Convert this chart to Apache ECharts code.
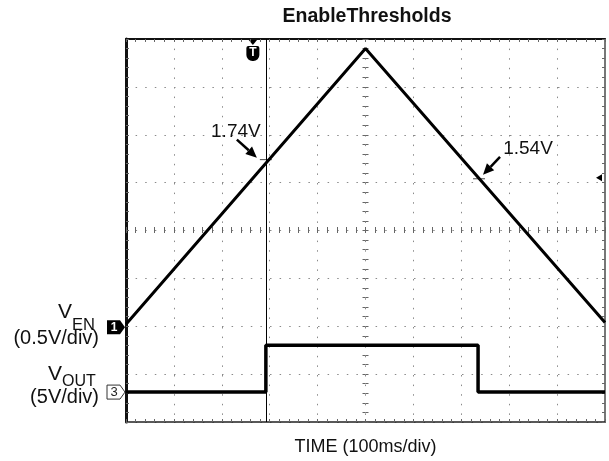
<!DOCTYPE html>
<html><head><meta charset="utf-8">
<script src="https://cdn.jsdelivr.net/npm/echarts@6/dist/echarts.min.js"></script>
<style>html,body{margin:0;padding:0;background:#fff}#c{width:609px;height:461px}</style>
</head><body><div id="c"></div>
<script>
// ---- data (read from the scope capture) ----
const timeRangeMs = [0, 1000];
const timeDivMs = 100;                 // 100 ms/div
const venTimeMs = [0, 500, 1000];
const venVolts = [0.02, 2.9, 0.04];
const voutTimeMs = [0, 292, 292, 735, 735, 1000];
const voutVolts = [0, 0, 4.9, 4.9, 0, 0];
const venScale = 0.5;                  // V/div
const voutScale = 5;                   // V/div
const venGroundDiv = -2;               // ground marker, divisions from centre
const voutGroundDiv = -3.375;
const triggerTimeMs = 292;
const triggerLevelV = 1.55;
const thresholdLabels = ['1.74V', '1.54V'];
const thresholdTimes = [292, 737];
const thresholdVolts = [1.74, 1.54];

const FONT = '"Liberation Sans", Arial, sans-serif';
const chart = echarts.init(document.getElementById('c'), null, {renderer: 'canvas'});

const tickCol = '#666';
const dotLine = {color: '#8a8a8a', width: 1, type: [1.5, 8.1]};
function xAx(extra) {
  return Object.assign({
    type: 'value', min: timeRangeMs[0], max: timeRangeMs[1], interval: timeDivMs,
    axisLabel: {show: false}, splitLine: {show: false},
    axisTick: {show: true, inside: true, length: 3, lineStyle: {color: tickCol}},
    minorTick: {show: true, splitNumber: 5, length: 3, lineStyle: {color: tickCol}},
  }, extra);
}
function yAx(extra) {
  return Object.assign({
    type: 'value', min: -4, max: 4, interval: 1,
    axisLabel: {show: false}, splitLine: {show: false},
    axisTick: {show: true, inside: true, length: 3, lineStyle: {color: tickCol}},
    minorTick: {show: true, splitNumber: 5, length: 3, lineStyle: {color: tickCol}},
  }, extra);
}
const gridLeft = 126, gridRight = 4, gridTop = 39, gridBottom = 38;
const plotW = 609 - gridLeft - gridRight, plotH = 461 - gridTop - gridBottom;

chart.setOption({
  animation: false,
  backgroundColor: '#fff',
  grid: {left: gridLeft, right: gridRight, top: gridTop, bottom: gridBottom, containLabel: false},
  xAxis: [
    xAx({position: 'bottom', axisLine: {show: true, onZero: false, lineStyle: {color: '#222', width: 1.5}},
         splitLine: {show: true, lineStyle: dotLine},
         name: 'TIME (100ms/div)', nameLocation: 'middle', nameGap: 16,
         nameTextStyle: {fontFamily: FONT, fontSize: 18, color: '#111'}}),
    xAx({position: 'top', axisLine: {show: true, onZero: false, lineStyle: {color: '#111', width: 2}}}),
    xAx({position: 'bottom', offset: -plotH / 2, axisLine: {show: false, onZero: false}}),
    xAx({position: 'bottom', offset: -plotH / 2, axisLine: {show: false, onZero: false},
         axisTick: {show: true, inside: false, length: 3, lineStyle: {color: tickCol}}})
  ],
  yAxis: [
    yAx({position: 'left', axisLine: {show: true, onZero: false, lineStyle: {color: '#111', width: 3}},
         splitLine: {show: true, lineStyle: dotLine}}),
    yAx({position: 'right', axisLine: {show: true, onZero: false, lineStyle: {color: '#777', width: 2}}}),
    yAx({position: 'left', offset: -plotW / 2, axisLine: {show: false, onZero: false}}),
    yAx({position: 'left', offset: -plotW / 2, axisLine: {show: false, onZero: false},
         axisTick: {show: true, inside: false, length: 3, lineStyle: {color: tickCol}}}),
    {type: 'value', show: false, min: (-4 - venGroundDiv) * venScale, max: (4 - venGroundDiv) * venScale},
    {type: 'value', show: false, min: (-4 - voutGroundDiv) * voutScale, max: (4 - voutGroundDiv) * voutScale}
  ],
  series: [
    {name: 'VEN', type: 'line', xAxisIndex: 0, yAxisIndex: 4, showSymbol: false, silent: true,
     data: venTimeMs.map((t, i) => [t, venVolts[i]]),
     lineStyle: {color: '#000', width: 3}},
    {name: 'VOUT', type: 'line', xAxisIndex: 0, yAxisIndex: 5, showSymbol: false, silent: true,
     data: voutTimeMs.map((t, i) => [t, voutVolts[i]]),
     lineStyle: {color: '#000', width: 3.5},
     markLine: {silent: true, symbol: 'none', label: {show: false},
       lineStyle: {color: '#000', width: 1, type: 'solid'},
       data: [{xAxis: triggerTimeMs}]}}
  ]
});

function px(t, v, yi) { return chart.convertToPixel({xAxisIndex: 0, yAxisIndex: yi}, [t, v]); }
const g = [];
function txt(x, y, s, size, align, extra) {
  g.push({type: 'text', x: x, y: y, silent: true,
    style: Object.assign({text: s, font: size + 'px ' + FONT, fill: '#111', align: align, verticalAlign: 'middle'}, extra || {})});
}
// title
txt(367, 17, 'EnableThresholds', 19.5, 'center', {font: 'bold 19.5px ' + FONT});
// channel labels
txt(72, 312, 'V', 21, 'right'); txt(72, 325, 'EN', 16.5, 'left');
txt(99, 338, '(0.5V/div)', 20, 'right');
txt(62, 374, 'V', 21, 'right'); txt(62, 382, 'OUT', 16, 'left');
txt(99, 397, '(5V/div)', 20, 'right');

// channel ground markers
const [xL, y1] = px(0, 0, 4);
const y3 = px(0, 0, 5)[1];
const flag = (y) => [[xL - 19, y - 7], [xL - 6, y - 7], [xL - 1, y], [xL - 6, y + 7], [xL - 19, y + 7]];
g.push({type: 'polygon', shape: {points: flag(y1 + 1)}, style: {fill: '#000'}, silent: true});
txt(xL - 12, y1 + 1, '1', 12, 'center', {fill: '#fff', font: 'bold 12px ' + FONT});
g.push({type: 'polygon', shape: {points: flag(y3)}, style: {fill: '#fff', stroke: '#333', lineWidth: 1}, silent: true});
txt(xL - 12, y3, '3', 13, 'center', {fill: '#222'});

// trigger marker at top
const xT = px(triggerTimeMs, 0, 4)[0];
const cx = xT - 13;
g.push({type: 'polygon', shape: {points: [[cx - 5, gridTop], [cx + 5, gridTop], [cx, gridTop + 6]]}, style: {fill: '#000'}, silent: true});
g.push({type: 'rect', shape: {x: cx - 6.5, y: gridTop + 7, width: 13, height: 15, r: [2, 2, 6, 6]}, style: {fill: '#000'}, silent: true});
txt(cx, gridTop + 14, 'T', 12, 'center', {fill: '#fff', font: 'bold 12px ' + FONT});

// trigger level arrow at right
const yL = px(0, triggerLevelV, 4)[1];
const xR = gridLeft + plotW;
g.push({type: 'polygon', shape: {points: [[xR - 9, yL], [xR - 3, yL - 3.5], [xR - 3, yL + 3.5]]}, style: {fill: '#000'}, silent: true});

// threshold annotations
function arrow(tail, tip) {
  const dx = tip[0] - tail[0], dy = tip[1] - tail[1];
  const L = Math.hypot(dx, dy), ux = dx / L, uy = dy / L;
  const hl = 11, hw = 5;
  const bx = tip[0] - ux * hl, by = tip[1] - uy * hl;
  g.push({type: 'line', shape: {x1: tail[0], y1: tail[1], x2: bx, y2: by}, style: {stroke: '#000', lineWidth: 2.5}, silent: true});
  g.push({type: 'polygon', shape: {points: [[tip[0], tip[1]], [bx - uy * hw, by + ux * hw], [bx + uy * hw, by - ux * hw]]}, style: {fill: '#000'}, silent: true});
}
const arrowOffsets = [[[-29, -20], [-9, -2], [-30, -28]], [[21, -22], [4, -4], [49, -30]]];
thresholdLabels.forEach((lab, i) => {
  const [ax, ay] = px(thresholdTimes[i], thresholdVolts[i], 4);
  const o = arrowOffsets[i];
  arrow([ax + o[0][0], ay + o[0][1]], [ax + o[1][0], ay + o[1][1]]);
  txt(ax + o[2][0], ay + o[2][1], lab, 19, 'center');
  g.push({type: 'line', shape: {x1: ax - 6, y1: ay, x2: ax + 6, y2: ay}, style: {stroke: '#444', lineWidth: 1}, silent: true});
});

chart.setOption({graphic: g});
</script></body></html>
